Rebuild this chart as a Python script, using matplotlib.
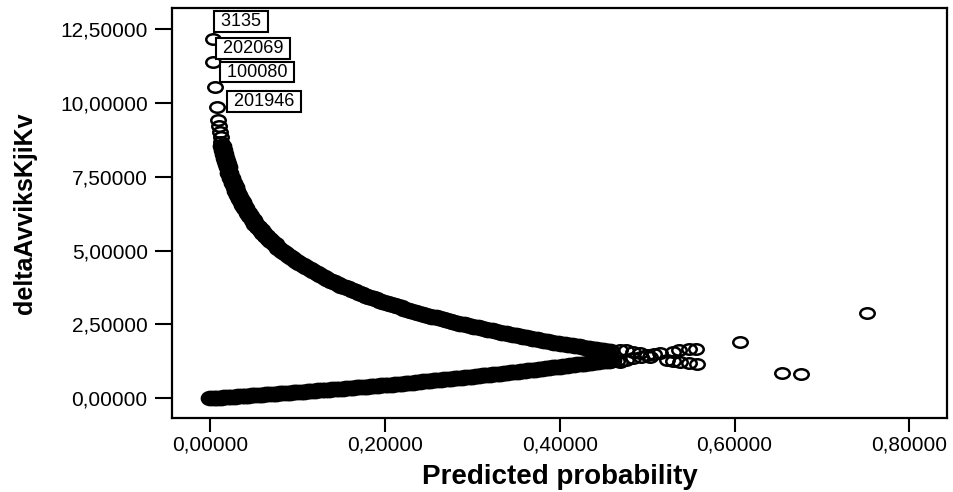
import matplotlib
matplotlib.use("Agg")
import matplotlib.pyplot as plt
from matplotlib.path import Path
from matplotlib.transforms import Affine2D
from matplotlib.ticker import FuncFormatter, FixedLocator

plt.rcParams['font.family'] = ['Liberation Sans', 'DejaVu Sans']

# ---------------- data ----------------
# outcome 1, top of the upper branch where single circles are visible
upper_top_p = [0.009, 0.010, 0.011, 0.012, 0.013]
upper_top_y = [9.42, 9.21, 9.02, 8.85, 8.69]

# outcome 1 : dense upper branch
upper_p = [0.014, 0.015, 0.016, 0.017, 0.018, 0.019, 0.020,
           0.022, 0.024, 0.026, 0.028, 0.030, 0.032, 0.034, 0.036, 0.038, 0.040,
           0.043, 0.046, 0.049, 0.052, 0.055, 0.058, 0.061, 0.064, 0.067, 0.070,
           0.074, 0.078, 0.082, 0.086, 0.090, 0.094, 0.098, 0.102, 0.106, 0.110,
           0.114, 0.118, 0.122, 0.126, 0.130, 0.134, 0.138, 0.142, 0.146, 0.150,
           0.154, 0.158, 0.162, 0.166, 0.170, 0.174, 0.178, 0.182, 0.186, 0.190,
           0.194, 0.198, 0.202, 0.206, 0.210, 0.214, 0.218, 0.222, 0.226, 0.230,
           0.234, 0.238, 0.242, 0.246, 0.250, 0.254, 0.258, 0.262, 0.266, 0.270,
           0.274, 0.278, 0.282, 0.286, 0.290, 0.294, 0.298, 0.302, 0.306, 0.310,
           0.314, 0.318, 0.322, 0.326, 0.330, 0.334, 0.338, 0.342, 0.346, 0.350,
           0.354, 0.358, 0.362, 0.366, 0.370, 0.374, 0.378, 0.382, 0.386, 0.390,
           0.394, 0.398, 0.402, 0.406, 0.410, 0.414, 0.418, 0.422, 0.426, 0.430,
           0.434, 0.438, 0.442, 0.446, 0.450, 0.454, 0.458]
upper_y = [8.54, 8.40, 8.27, 8.15, 8.03, 7.93, 7.82,
           7.63, 7.46, 7.30, 7.15, 7.01, 6.88, 6.76, 6.65, 6.54, 6.44,
           6.29, 6.16, 6.03, 5.91, 5.80, 5.69, 5.59, 5.50, 5.41, 5.32,
           5.21, 5.10, 5.00, 4.91, 4.82, 4.74, 4.66, 4.59, 4.51, 4.44,
           4.37, 4.30, 4.24, 4.17, 4.11, 4.05, 3.99, 3.93, 3.88, 3.82,
           3.77, 3.72, 3.67, 3.62, 3.57, 3.53, 3.48, 3.44, 3.39, 3.35,
           3.31, 3.27, 3.23, 3.19, 3.15, 3.11, 3.08, 3.04, 3.00, 2.97,
           2.93, 2.90, 2.87, 2.83, 2.80, 2.77, 2.74, 2.71, 2.68, 2.65,
           2.62, 2.59, 2.56, 2.53, 2.51, 2.48, 2.45, 2.42, 2.40, 2.37,
           2.35, 2.32, 2.30, 2.27, 2.25, 2.22, 2.20, 2.18, 2.15, 2.13,
           2.11, 2.08, 2.06, 2.04, 2.02, 2.00, 1.98, 1.95, 1.93, 1.91,
           1.89, 1.87, 1.85, 1.83, 1.81, 1.79, 1.77, 1.76, 1.74, 1.72,
           1.70, 1.68, 1.66, 1.64, 1.63, 1.61, 1.59]

# outcome 0 : dense lower branch
lower_p = [0.000, 0.004, 0.008, 0.012, 0.016, 0.020, 0.024, 0.028, 0.032, 0.036,
           0.040, 0.044, 0.048, 0.052, 0.056, 0.060, 0.064, 0.068, 0.072, 0.076,
           0.080, 0.084, 0.088, 0.092, 0.096, 0.100, 0.104, 0.108, 0.112, 0.116,
           0.120, 0.124, 0.128, 0.132, 0.136, 0.140, 0.144, 0.148, 0.152, 0.156,
           0.160, 0.164, 0.168, 0.172, 0.176, 0.180, 0.184, 0.188, 0.192, 0.196,
           0.200, 0.204, 0.208, 0.212, 0.216, 0.220, 0.224, 0.228, 0.232, 0.236,
           0.240, 0.244, 0.248, 0.252, 0.256, 0.260, 0.264, 0.268, 0.272, 0.276,
           0.280, 0.284, 0.288, 0.292, 0.296, 0.300, 0.304, 0.308, 0.312, 0.316,
           0.320, 0.324, 0.328, 0.332, 0.336, 0.340, 0.344, 0.348, 0.352, 0.356,
           0.360, 0.364, 0.368, 0.372, 0.376, 0.380, 0.384, 0.388, 0.392, 0.396,
           0.400, 0.404, 0.408, 0.412, 0.416, 0.420, 0.424, 0.428, 0.432, 0.436,
           0.440, 0.444, 0.448, 0.452, 0.456, 0.460]
lower_y = [0.000, 0.008, 0.016, 0.024, 0.032, 0.040, 0.049, 0.057, 0.065, 0.073,
           0.082, 0.090, 0.098, 0.107, 0.115, 0.124, 0.132, 0.141, 0.150, 0.158,
           0.167, 0.175, 0.184, 0.193, 0.202, 0.211, 0.220, 0.229, 0.238, 0.247,
           0.256, 0.265, 0.274, 0.283, 0.293, 0.302, 0.311, 0.321, 0.330, 0.340,
           0.349, 0.359, 0.368, 0.378, 0.388, 0.397, 0.407, 0.417, 0.427, 0.437,
           0.446, 0.457, 0.467, 0.477, 0.487, 0.497, 0.508, 0.518, 0.529, 0.539,
           0.555, 0.570, 0.582, 0.594, 0.605, 0.617, 0.628, 0.640, 0.651, 0.662,
           0.673, 0.686, 0.698, 0.710, 0.722, 0.736, 0.750, 0.762, 0.775, 0.788,
           0.799, 0.812, 0.825, 0.838, 0.851, 0.863, 0.876, 0.890, 0.903, 0.916,
           0.929, 0.942, 0.956, 0.970, 0.983, 1.000, 1.016, 1.030, 1.044, 1.058,
           1.072, 1.087, 1.101, 1.116, 1.131, 1.145, 1.160, 1.175, 1.191, 1.206,
           1.220, 1.236, 1.250, 1.265, 1.280, 1.294]

# loose points where the two branches meet
meet_p = [0.469, 0.476, 0.484, 0.492, 0.500, 0.508, 0.515, 0.530, 0.537, 0.548, 0.556,
          0.465, 0.469, 0.476, 0.484, 0.493, 0.503, 0.523, 0.530, 0.538, 0.548, 0.557]
meet_y = [1.64, 1.62, 1.58, 1.52, 1.47, 1.50, 1.52, 1.58, 1.62, 1.66, 1.66,
          1.26, 1.24, 1.30, 1.35, 1.40, 1.41, 1.30, 1.28, 1.24, 1.20, 1.17]

# isolated points on the right
outlier_p = [0.606, 0.654, 0.676, 0.751]
outlier_y = [1.90, 0.87, 0.81, 2.88]

# labelled cases at the top
labelled_p = [0.0034, 0.0034, 0.0057, 0.0080]
labelled_y = [12.17, 11.39, 10.54, 9.86]
case_ids = ["3135", "202069", "100080", "201946"]

x_ticks = [0.0, 0.2, 0.4, 0.6, 0.8]
y_ticks = [0.0, 2.5, 5.0, 7.5, 10.0, 12.5]
x_title = "Predicted probability"
y_title = "deltaAvviksKjiKv"

# ---------------- figure ----------------
W, H = 954, 492
fig = plt.figure(figsize=(W / 100, H / 100), dpi=100)
L, R, T, B = 172, 947, 8.3, 417.7
ax = fig.add_axes([L / W, 1 - B / H, (R - L) / W, (B - T) / H])
ax.set_xlim(-0.0435, 0.843)
ax.set_ylim(-0.657, 13.21)

ell = Path.unit_circle().transformed(Affine2D().scale(1.38, 1.0))
thin = dict(linestyle='none', marker=ell, ms=10.4, mfc='none', mec='black', mew=1.8)
# overlapping circles in the crowded branches merge into a solid band
dense = dict(linestyle='none', marker=ell, ms=10.4, mfc='none', mec='black', mew=3.8)

ax.plot(upper_p, upper_y, **dense)
ax.plot(lower_p, lower_y, **dense)
for xs, ys in [(upper_top_p, upper_top_y), (meet_p, meet_y),
               (outlier_p, outlier_y), (labelled_p, labelled_y)]:
    ax.plot(xs, ys, **thin)

offsets = [(3, 17.5), (5, 13.5), (7, 15), (12, 5.5)]
for px, py, lab, off in zip(labelled_p, labelled_y, case_ids, offsets):
    ax.annotate(" " + lab + " ", (px, py), xytext=off, textcoords='offset pixels',
                ha='left', va='center', fontsize=13, zorder=5,
                bbox=dict(boxstyle='square,pad=0.1', fc='white', ec='black', lw=1.5))

for s in ax.spines.values():
    s.set_linewidth(1.6)

fmt = FuncFormatter(lambda v, _: f"{v:.5f}".replace('.', ','))
ax.xaxis.set_major_locator(FixedLocator(x_ticks))
ax.yaxis.set_major_locator(FixedLocator(y_ticks))
ax.xaxis.set_major_formatter(fmt)
ax.yaxis.set_major_formatter(fmt)
ax.tick_params(axis='x', length=10, width=1.5, pad=2.5, labelsize=15, direction='out')
ax.tick_params(axis='y', length=12.5, width=1.5, pad=5, labelsize=15, direction='out')

ax.set_xlabel(x_title, fontsize=20, fontweight='bold')
ax.xaxis.set_label_coords(0.5, -0.1125)
ax.set_ylabel(y_title, fontsize=18, fontweight='bold')
ax.yaxis.set_label_coords(-0.174, 0.5)

fig.savefig("out.png", dpi=100)
